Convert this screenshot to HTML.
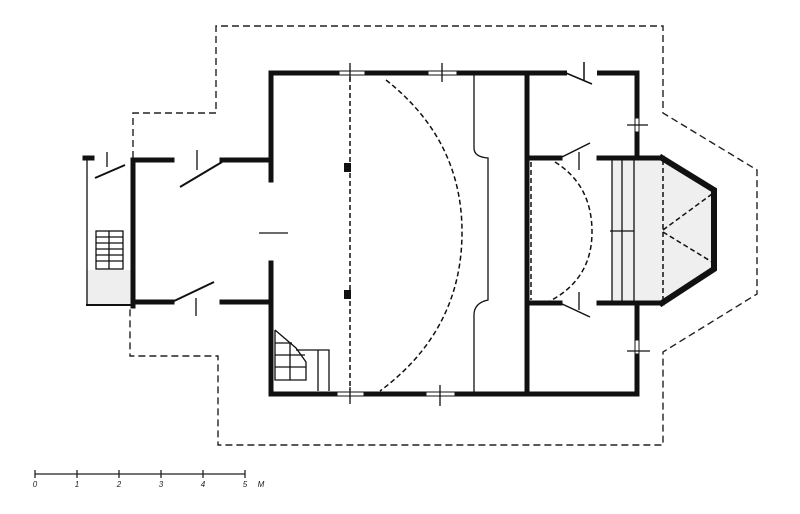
<!DOCTYPE html>
<html><head><meta charset="utf-8"><style>
html,body{margin:0;padding:0;background:#fff;width:800px;height:514px;overflow:hidden}
svg{display:block}
</style></head><body>
<svg width="800" height="514" viewBox="0 0 800 514" xmlns="http://www.w3.org/2000/svg" font-family="Liberation Sans, sans-serif">
<rect width="800" height="514" fill="#fff"/>
<!-- gray fills -->
<rect x="86" y="270" width="46" height="35" fill="#eee"/>
<polygon points="612,160 663,160 714,191 714,268 663,301 612,301" fill="#efefef"/>
<!-- outer dashed outline -->
<g fill="none" stroke="#222" stroke-width="1.4" stroke-dasharray="7,4">
<polyline points="133,158 133,113 216,113 216,26 663,26 663,113 757,170 757,294 663,352 663,445 218,445 218,356 130,356 130,308"/>
</g>
<!-- thick walls -->
<g stroke="#111" stroke-width="5" fill="none" stroke-linecap="square">
<line x1="271" y1="73" x2="637" y2="73"/>
<line x1="271" y1="394" x2="637" y2="394"/>
<line x1="271" y1="73" x2="271" y2="180"/>
<line x1="271" y1="263" x2="271" y2="394"/>
<line x1="527" y1="73" x2="527" y2="394"/>
<line x1="637" y1="73" x2="637" y2="158"/>
<line x1="637" y1="303" x2="637" y2="394"/>
<line x1="527" y1="158" x2="560" y2="158"/>
<line x1="527" y1="303" x2="560" y2="303"/>
<line x1="599" y1="158" x2="662" y2="158"/>
<line x1="599" y1="303" x2="662" y2="303"/>
<polyline points="662,158 714,190 714,269 662,303" stroke-width="6" stroke-linejoin="miter"/>
<line x1="133" y1="160" x2="133" y2="306"/>
<line x1="133" y1="160" x2="172" y2="160"/>
<line x1="222" y1="160" x2="270" y2="160"/>
<line x1="133" y1="302" x2="172" y2="302"/>
<line x1="222" y1="302" x2="270" y2="302"/>
<line x1="87" y1="305" x2="133" y2="305" stroke-width="2"/>
<line x1="85" y1="158" x2="92" y2="158"/>
</g>
<!-- top openings on top wall near right -->
<rect x="567" y="70" width="30" height="7" fill="#fff"/>
<line x1="566" y1="73" x2="592" y2="84" stroke="#111" stroke-width="1.5"/>
<line x1="584" y1="62" x2="584" y2="80" stroke="#111" stroke-width="1.5"/>
<!-- windows -->
<g fill="#fff" stroke="#111" stroke-width="1">
<rect x="339" y="71" width="26" height="4"/><rect x="428" y="71" width="29" height="4"/>
<rect x="337" y="392" width="27" height="4"/><rect x="426" y="392" width="29" height="4"/>
<rect x="635" y="118" width="4" height="14"/><rect x="635" y="340" width="4" height="14"/>
</g>
<g stroke="#111" stroke-width="1.3">
<line x1="350" y1="63" x2="350" y2="80"/><line x1="442" y1="63" x2="442" y2="82"/>
<line x1="350" y1="387" x2="350" y2="404"/><line x1="440" y1="385" x2="440" y2="406"/>
<line x1="627" y1="125" x2="648" y2="125"/><line x1="627" y1="351" x2="650" y2="351"/>
</g>
<!-- thin lines -->
<g stroke="#111" stroke-width="1.3" fill="none">
<line x1="87" y1="158" x2="87" y2="305"/>
<path d="M474,75 V148 Q474,157 488,158 V300 Q474,303 474,315 V392"/>
<line x1="612" y1="160" x2="612" y2="301"/>
<line x1="622" y1="160" x2="622" y2="301"/>
<line x1="634" y1="160" x2="634" y2="301"/>
<line x1="610" y1="231" x2="634" y2="231"/>
<line x1="259" y1="233" x2="288" y2="233"/>
<!-- door leaves -->
<line x1="95" y1="178" x2="125" y2="165" stroke-width="2"/>
<line x1="107" y1="152" x2="107" y2="167"/>
<line x1="180" y1="187" x2="222" y2="162" stroke-width="2"/>
<line x1="197" y1="150" x2="197" y2="170"/>
<line x1="172" y1="302" x2="214" y2="282" stroke-width="2"/>
<line x1="196" y1="298" x2="196" y2="316"/>
<line x1="560" y1="158" x2="590" y2="143" stroke-width="1.5"/>
<line x1="579" y1="152" x2="579" y2="170"/>
<line x1="560" y1="303" x2="590" y2="317" stroke-width="1.5"/>
<line x1="579" y1="292" x2="579" y2="310"/>
</g>
<!-- dashed internal -->
<g stroke="#111" stroke-width="1.5" fill="none" stroke-dasharray="5,3">
<line x1="350" y1="77" x2="350" y2="390"/>
<path d="M386,80 Q462,140 462,232 Q462,330 380,391"/>
<line x1="527" y1="162" x2="527" y2="300"/>
<line x1="531" y1="162" x2="531" y2="300"/>
<path d="M555,162 Q592,185 592,232 Q592,280 548,302"/>
<line x1="663" y1="160" x2="663" y2="301"/>
<line x1="663" y1="230" x2="712" y2="194"/>
<line x1="663" y1="232" x2="712" y2="262"/>
</g>
<rect x="344" y="163" width="7" height="9" fill="#111"/>
<rect x="344" y="290" width="7" height="9" fill="#111"/>
<!-- stairs -->
<g stroke="#111" stroke-width="1.3" fill="none">
<rect x="96" y="231" width="27" height="38"/>
<line x1="109" y1="231" x2="109" y2="269"/>
<line x1="96" y1="237" x2="123" y2="237"/><line x1="96" y1="243" x2="123" y2="243"/>
<line x1="96" y1="249" x2="123" y2="249"/><line x1="96" y1="255" x2="123" y2="255"/>
<line x1="96" y1="261" x2="123" y2="261"/>
<polyline points="275,330 275,380 306,380 306,362 296,348 275,330"/>
<line x1="275" y1="343" x2="292" y2="343"/><line x1="275" y1="355" x2="305" y2="355"/>
<line x1="275" y1="367" x2="306" y2="367"/>
<line x1="290" y1="343" x2="290" y2="380"/>
<polyline points="296,350 329,350 329,391"/>
<line x1="318" y1="350" x2="318" y2="391"/>
</g>
<!-- scale bar -->
<g stroke="#222" stroke-width="1.3" fill="none">
<line x1="35" y1="474" x2="245" y2="474"/>
<line x1="35" y1="470" x2="35" y2="478"/><line x1="77" y1="470" x2="77" y2="478"/>
<line x1="119" y1="470" x2="119" y2="478"/><line x1="161" y1="470" x2="161" y2="478"/>
<line x1="203" y1="470" x2="203" y2="478"/><line x1="245" y1="470" x2="245" y2="478"/>
</g>
<g font-size="8" fill="#222" text-anchor="middle" font-style="italic">
<text x="35" y="487">0</text><text x="77" y="487">1</text><text x="119" y="487">2</text>
<text x="161" y="487">3</text><text x="203" y="487">4</text><text x="245" y="487">5</text>
<text x="261" y="487">M</text>
</g>
</svg>
</body></html>
